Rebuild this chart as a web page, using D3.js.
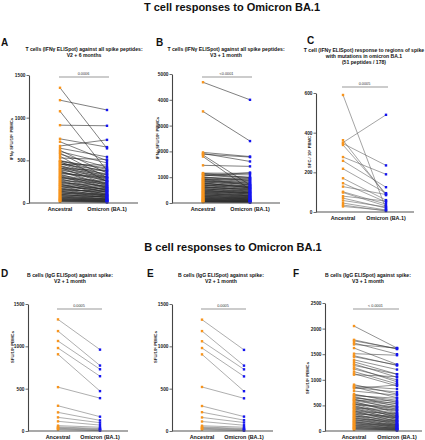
<!DOCTYPE html>
<html>
<head>
<meta charset="utf-8">
<script src="https://cdn.jsdelivr.net/npm/d3@7"></script>
<style>
body{margin:0;background:#fff;}
svg{display:block;font-family:"Liberation Sans",Arial,sans-serif;}
</style>
</head>
<body>
<svg id="chart" width="425" height="440"></svg>
<script>
const categories = ["Ancestral", "Omicron (BA.1)"];

// Panel A: T cells IFNγ ELISpot, V2 + 6 months
const A_anc = [1350,1205,1075,912,752,718,668,642,618,603,586,572,548,527,498,494,488,476,463,452,441,428,417,405,396,384,371,362,350,338,327,318,306,297,285,276,264,256,243,232,224,213,205,196,188,176,167,158,149,141,132,124,115,106,98,89,80,72,63,55,47,40,33,26,
  480,455,430,402,377,345,312,290,262,238,215,192,170,152,136,118,101,86,70,58,45,36,28,20,15];
const A_omi = [640,1090,380,905,655,495,740,540,350,470,300,420,250,510,395,362,410,330,288,445,275,342,218,380,256,310,198,265,302,184,236,210,172,258,145,190,228,121,176,154,98,167,135,88,148,112,76,130,95,64,102,58,84,45,70,38,52,30,44,24,35,18,22,12,
  300,380,260,330,214,290,180,240,150,200,128,165,110,140,82,96,66,74,50,40,32,26,16,10,8];
const A_ticks = [0,500,1000,1500];

// Panel B: T cells IFNγ ELISpot, V3 + 1 month
const B_anc = [4680,3550,1960,1920,1890,1860,1800,1460,1160,1130,1100,1080,1050,1010,980,950,930,905,880,860,835,810,790,765,740,720,700,676,650,630,605,588,565,540,522,498,476,455,436,412,394,372,350,331,312,290,268,250,232,210,192,175,156,138,120,102,85,68,50,34,
  1140,990,920,845,770,690,612,548,480,420,365,300,245,198,160,128,95,72,55,40];
const B_omi = [4000,2400,1800,1610,1780,700,520,1420,1150,1090,1000,960,1180,880,940,820,760,900,690,800,640,720,580,610,660,540,480,590,450,510,420,560,380,470,330,400,350,300,410,270,310,240,280,200,230,180,150,210,120,160,100,130,80,110,60,90,45,55,30,20,
  980,860,700,760,600,640,520,430,390,360,280,250,190,170,140,100,75,60,40,25];
const B_ticks = [0,1000,2000,3000,4000,5000];

// Panel C: responses to mutated regions (51 peptides / 178)
const C_anc = [590,362,350,345,338,277,258,218,170,145,128,102,98,80,70,58,45,35,28];
const C_omi = [15,85,490,235,92,190,125,95,60,50,88,40,30,55,20,25,10,5,8];
const C_ticks = [0,200,400,600];

// Panel D: B cells IgG ELISpot, V2 + 1 month
const D_anc = [1318,1180,1063,980,906,518,298,220,161,114,63,48,40,32,25,18];
const D_omi = [961,773,729,647,471,388,169,125,98,70,45,30,22,15,8,4];
const D_ticks = [0,500,1000,1500];

// Panel E: B cells IgG ELISpot, V2 + 1 month
const E_anc = [1315,1180,1060,980,905,520,295,222,160,112,62,48,40,32,25,18];
const E_omi = [958,772,728,645,470,386,170,128,100,68,45,30,22,15,8,4];
const E_ticks = [0,500,1000,1500];

// Panel F: B cells IgG ELISpot, V3 + 1 month
const F_anc = [2050,1780,1720,1690,1620,1510,1470,1390,1350,1310,1240,1210,1160,1120,905,880,860,850,720,705,690,672,655,640,622,608,590,575,560,544,530,515,500,486,470,455,440,424,410,395,380,366,350,336,320,305,290,276,262,248,232,218,204,190,176,162,148,134,120,106,92,78,64,50,36,22,
  1760,1450,1280,1100,830,780,610,520,450,380,330,280,240,200,170,140,110,80,60,40];
const F_omi = [1620,1600,1500,1620,1300,1480,1280,1200,1110,1050,960,1000,920,880,720,820,650,760,560,600,640,480,530,580,420,500,460,350,400,380,300,440,260,340,320,280,220,300,250,180,230,200,260,150,170,120,210,140,100,160,80,130,110,60,90,70,40,100,50,30,60,20,40,15,25,10,
  1610,1290,1110,1060,900,700,540,470,410,340,290,270,200,190,130,120,90,70,45,30];
const F_ticks = [0,500,1000,1500,2000,2500];

const svg = d3.select("#chart");
svg.append("rect").attr("width",425).attr("height",440).attr("fill","#fff");

const ORANGE = "#f7941d", BLUE = "#1414f0";

function titleText(x, y, text, size, weight){
  svg.append("text").attr("x",x).attr("y",y).attr("text-anchor","middle")
    .attr("font-size",size).attr("font-weight",weight||"bold").attr("fill","#111").text(text);
}

// Section titles
titleText(232, 11, "T cell responses to Omicron BA.1", 11, "bold");
titleText(233, 251, "B cell responses to Omicron BA.1", 11, "bold");

function panel(cfg){
  const g = svg.append("g");
  const y = d3.scaleLinear().domain([0, cfg.max]).range([cfg.yBot, cfg.yTop]);
  const x = d3.scalePoint().domain(categories).range([cfg.ancX, cfg.omiX]);

  g.append("text").attr("x",cfg.letterX).attr("y",cfg.letterY).attr("font-size",10)
    .attr("font-weight","bold").attr("fill","#111").text(cfg.letter);
  cfg.sub.forEach((s,i)=>{
    g.append("text").attr("x",cfg.subX).attr("y",cfg.subY + i*6.2).attr("text-anchor","middle")
      .attr("font-size",5.1).attr("font-weight","bold").attr("fill","#111").text(s);
  });

  const pairs = cfg.anc.map((a,i)=>[a, cfg.omi[i]]);
  g.append("g").selectAll("line").data(pairs).join("line")
    .attr("x1", x(categories[0])).attr("x2", x(categories[1]))
    .attr("y1", d=>y(d[0])).attr("y2", d=>y(d[1]))
    .attr("stroke", cfg.lineColor || "#555").attr("stroke-width", cfg.lineW || 0.6);

  const s = 2.4;
  g.append("g").selectAll("rect").data(cfg.anc).join("rect")
    .attr("x", x(categories[0]) - s/2).attr("y", d=>y(d)-s/2)
    .attr("width", s).attr("height", s).attr("fill", ORANGE);
  g.append("g").selectAll("rect").data(cfg.omi).join("rect")
    .attr("x", x(categories[1]) - s/2).attr("y", d=>y(d)-s/2)
    .attr("width", s).attr("height", s).attr("fill", BLUE);

  const ax = g.append("g").attr("transform",`translate(${cfg.x0},0)`)
    .call(d3.axisLeft(y).tickValues(cfg.ticks).tickFormat(d3.format("d")).tickSize(2.5).tickSizeOuter(0).tickPadding(1));
  ax.select(".domain").attr("stroke","#444").attr("stroke-width",1.1);
  ax.selectAll(".tick line").attr("stroke","#444").attr("stroke-width",0.8);
  ax.selectAll(".tick text").attr("font-size",4.8).attr("font-weight","bold")
    .attr("fill","#222").attr("font-family","Liberation Sans, Arial, sans-serif");

  g.append("line").attr("x1",cfg.x0).attr("x2",cfg.x1).attr("y1",cfg.yBot).attr("y2",cfg.yBot)
    .attr("stroke","#555").attr("stroke-width",1.1);
  g.selectAll("text.cat").data(categories).join("text").attr("class","cat")
    .attr("x", d=>x(d)).attr("y", cfg.yBot + 8).attr("text-anchor","middle")
    .attr("font-size",5.4).attr("font-weight","bold").attr("fill","#111").text(d=>d);

  g.append("text").attr("transform",`translate(${cfg.ytX},${cfg.ytY}) rotate(-90)`)
    .attr("text-anchor","middle").attr("font-size",4.2).attr("font-weight","bold")
    .attr("fill","#222").text(cfg.yTitle);

  g.append("line").attr("x1", x(categories[0]) - 1).attr("x2", x(categories[1]) + 2)
    .attr("y1", cfg.brY).attr("y2", cfg.brY).attr("stroke","#999").attr("stroke-width",1.2);
  g.append("text").attr("x", (x(categories[0]) + x(categories[1]))/2).attr("y", cfg.brY - 2.5)
    .attr("text-anchor","middle").attr("font-size",3.8).attr("fill","#333").text(cfg.p);
}

panel({letter:"A", letterX:1, letterY:46, subX:84, subY:51,
  sub:["T cells (IFNγ ELISpot) against all spike peptides:", "V2 + 6 months"],
  anc:A_anc, omi:A_omi, ticks:A_ticks, max:1500,
  x0:29, x1:138, yTop:75, yBot:203, ancX:60, omiX:107,
  yTitle:"IFNγ SFU/10⁶ PBMCs", ytX:13, ytY:139, brY:77, p:"0.0006", lineColor:"#2a2a2a", lineW:0.6});

panel({letter:"B", letterX:156, letterY:46, subX:226, subY:51,
  sub:["T cells (IFNγ ELISpot) against all spike peptides:", "V3 + 1 month"],
  anc:B_anc, omi:B_omi, ticks:B_ticks, max:5000,
  x0:172, x1:280, yTop:74, yBot:203, ancX:203, omiX:250,
  yTitle:"IFNγ SFU/10⁶ PBMCs", ytX:159, ytY:138, brY:77, p:"<0.0001", lineColor:"#2a2a2a", lineW:0.6});

panel({letter:"C", letterX:307, letterY:44, subX:364, subY:51.5,
  sub:["T cell (IFNγ ELISpot) response to regions of spike", "with mutations in omicron BA.1", "(51 peptides / 178)"],
  anc:C_anc, omi:C_omi, ticks:C_ticks, max:600,
  x0:316, x1:414, yTop:93, yBot:212, ancX:343, omiX:386,
  yTitle:"SFC / 10⁶ PBMC", ytX:311, ytY:152, brY:87, p:"0.0005", lineColor:"#666"});

panel({letter:"D", letterX:1, letterY:277, subX:70, subY:277,
  sub:["B cells (IgG ELISpot) against spike:", "V2 + 1 month"],
  anc:D_anc, omi:D_omi, ticks:D_ticks, max:1500,
  x0:28, x1:128, yTop:304, yBot:431, ancX:58, omiX:100,
  yTitle:"SFU/10⁶ PBMCs", ytX:14, ytY:347, brY:309, p:"0.0005", lineColor:"#777"});

panel({letter:"E", letterX:147, letterY:277, subX:221, subY:277,
  sub:["B cells (IgG ELISpot) against spike:", "V2 + 1 month"],
  anc:E_anc, omi:E_omi, ticks:E_ticks, max:1500,
  x0:172, x1:273, yTop:304, yBot:431, ancX:202, omiX:244,
  yTitle:"SFU/10⁶ PBMCs", ytX:157, ytY:347, brY:309, p:"0.0005", lineColor:"#777"});

panel({letter:"F", letterX:293, letterY:277, subX:368, subY:277,
  sub:["B cells (IgG ELISpot) against spike:", "V3 + 1 month"],
  anc:F_anc, omi:F_omi, ticks:F_ticks, max:2500,
  x0:325, x1:422, yTop:303, yBot:431, ancX:354, omiX:397,
  yTitle:"SFU/10⁶ PBMCs", ytX:309, ytY:378, brY:309, p:"< 0.0001", lineColor:"#3a3a3a", lineW:0.55});
</script>
</body>
</html>
